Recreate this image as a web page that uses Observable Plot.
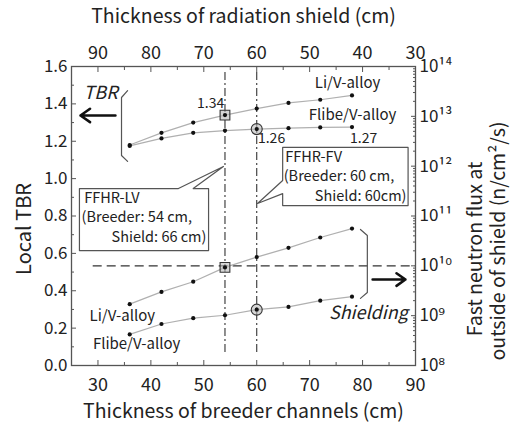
<!DOCTYPE html>
<html><head><meta charset="utf-8">
<script src="https://cdn.jsdelivr.net/npm/d3@7"></script>
<script src="https://cdn.jsdelivr.net/npm/@observablehq/plot@0.6"></script>
<style>body{margin:0;background:#fff}</style>
</head><body><div id="chart"></div>
<script>
// ---- data ----
const breeder   = [36, 42, 48, 54, 60, 66, 72, 78];            // cm
const tbrLi     = [1.18, 1.245, 1.30, 1.34, 1.375, 1.405, 1.422, 1.445];
const tbrFlibe  = [1.175, 1.215, 1.245, 1.257, 1.265, 1.27, 1.274, 1.276];
const fluxLi    = [1.7e9, 3.0e9, 4.8e9, 9.3e9, 1.5e10, 2.3e10, 3.7e10, 5.6e10];
const fluxFlibe = [4.2e8, 6.8e8, 8.9e8, 1.02e9, 1.32e9, 1.5e9, 2.0e9, 2.4e9];
const seriesNames = ["Li/V-alloy", "Flibe/V-alloy"];

const xTicks = [30, 40, 50, 60, 70, 80, 90];
const xMinor = [25, 35, 45, 55, 65, 75, 85];
const shieldTicks = [90, 80, 70, 60, 50, 40, 30];
const totalThickness = 120;                 // breeder + shield
const tbrTicks = [0, 0.2, 0.4, 0.6, 0.8, 1.0, 1.2, 1.4, 1.6];
const tbrMinor = [0.1, 0.3, 0.5, 0.7, 0.9, 1.1, 1.3, 1.5];
const fluxExps = [8, 9, 10, 11, 12, 13, 14];
const fluxMinorMult = [2, 3, 4, 5, 6, 7, 8, 9];
const tbrMax = 1.6, expMin = 8, expMax = 14;
const refFlux = 1e10;
const markedBreeder = [54, 60];

// map flux onto the TBR axis (shared plot height)
const fluxToY = f => (Math.log10(f) - expMin) / (expMax - expMin) * tbrMax;
const yToExp = v => Math.round(v / tbrMax * (expMax - expMin) + expMin);
const supMap = {"0":"⁰","1":"¹","2":"²","3":"³","4":"⁴","5":"⁵","6":"⁶","7":"⁷","8":"⁸","9":"⁹"};
const sup = n => String(n).split("").map(c => supMap[c]).join("");

const rows = [];
breeder.forEach((b, i) => {
  rows.push({x: b, y: tbrLi[i], s: "tbr-" + seriesNames[0]});
  rows.push({x: b, y: tbrFlibe[i], s: "tbr-" + seriesNames[1]});
  rows.push({x: b, y: fluxToY(fluxLi[i]), s: "flux-" + seriesNames[0]});
  rows.push({x: b, y: fluxToY(fluxFlibe[i]), s: "flux-" + seriesNames[1]});
});
const fluxMinor = [];
fluxExps.slice(0, -1).forEach(e => fluxMinorMult.forEach(m => fluxMinor.push(fluxToY(m * 10 ** e))));

// ---- annotation geometry (data units) ----
const tbrBracket = [[35.6, 1.471], [34.45, 1.434], [34.45, 1.124], [35.6, 1.092]];
const shBracket  = [[79.6, 0.728], [80.9, 0.696], [80.9, 0.391], [79.6, 0.359]];
const lvBox = [[26.5, 0.947], [45.2, 0.947], [53.7, 1.065], [48.0, 0.947], [50.9, 0.947], [50.9, 0.615], [26.5, 0.615], [26.5, 0.947]];
const fvBox = [[64.9, 1.167], [88.6, 1.167], [88.6, 0.856], [64.9, 0.856], [64.9, 0.920], [60.15, 0.867], [64.9, 0.990], [64.9, 1.167]];
const arrows = [
  {x1: 33.3, y1: 1.338, x2: 26.7, y2: 1.338},
  {x1: 81.9, y1: 0.460, x2: 88.1, y2: 0.460}
];
const italicLabels = [
  {x: 30.5, y: 1.455, t: "TBR"},
  {x: 81.1, y: 0.278, t: "Shielding"}
];
const valueLabels = [
  {x: 51.3, y: 1.402, t: "1.34"},
  {x: 62.8, y: 1.215, t: "1.26"},
  {x: 80.2, y: 1.215, t: "1.27"}
];
const seriesLabels = [
  {x: 77.15, y: 1.509, t: seriesNames[0]},
  {x: 78.1, y: 1.338, t: seriesNames[1]},
  {x: 34.6, y: 0.262, t: seriesNames[0]},
  {x: 37.3, y: 0.112, t: seriesNames[1]}
];
const boxStart = [
  {x: 27.4, y: 0.894, t: "FFHR-LV"},
  {x: 26.9, y: 0.792, t: "(Breeder: 54 cm,"},
  {x: 65.4, y: 1.116, t: "FFHR-FV"},
  {x: 65.1, y: 1.011, t: "(Breeder: 60 cm,"}
];
const boxEnd = [
  {x: 50.5, y: 0.685, t: "Shield: 66 cm)"},
  {x: 88.3, y: 0.905, t: "Shield: 60cm)"}
];

const font = "'Noto Sans CJK JP', 'DejaVu Sans', sans-serif";
const ink = "#222";
const xy = {x: "x", y: "y", text: "t", fill: ink};

const chart = Plot.plot({
  width: 510, height: 425,
  marginLeft: 71, marginRight: 95, marginTop: 66, marginBottom: 60,
  x: {domain: [25, 90]},
  y: {domain: [0, tbrMax]},
  style: {fontFamily: font, fontSize: "18px", color: ink, background: "#fff"},
  marks: [
    // reference lines
    Plot.ruleX(markedBreeder, {y1: 0.07, y2: 1.57, stroke: "#333", strokeWidth: 1.1, strokeDasharray: "8,3,2,3"}),
    Plot.ruleY([fluxToY(refFlux)], {x1: 29.1, x2: 90, stroke: "#333", strokeWidth: 1.2, strokeDasharray: "9,5"}),
    // series lines
    Plot.line(rows, {x: "x", y: "y", z: "s", stroke: "#b0b0b0", strokeWidth: 1.2}),
    // highlighted design points
    Plot.dot([{x: breeder[3], y: tbrLi[3]}, {x: breeder[3], y: fluxToY(fluxLi[3])}],
      {x: "x", y: "y", symbol: "square", r: 5.5, stroke: "#333", strokeWidth: 1.1, fill: "#bbb", fillOpacity: 0.6}),
    Plot.dot([{x: breeder[4], y: tbrFlibe[4]}, {x: breeder[4], y: fluxToY(fluxFlibe[4])}],
      {x: "x", y: "y", r: 5.5, stroke: "#333", strokeWidth: 1.1, fill: "#bbb", fillOpacity: 0.6}),
    Plot.dot(rows, {x: "x", y: "y", r: 2.1, fill: "#111"}),
    // brackets, boxes, arrows
    Plot.line(tbrBracket, {x: d => d[0], y: d => d[1], stroke: "#555", strokeWidth: 1.2}),
    Plot.line(shBracket, {x: d => d[0], y: d => d[1], stroke: "#555", strokeWidth: 1.2}),
    Plot.line(lvBox, {x: d => d[0], y: d => d[1], stroke: "#555", strokeWidth: 1.2}),
    Plot.line(fvBox, {x: d => d[0], y: d => d[1], stroke: "#555", strokeWidth: 1.2}),
    Plot.arrow(arrows, {x1: "x1", y1: "y1", x2: "x2", y2: "y2", stroke: "#111", strokeWidth: 2.6, headLength: 11, headAngle: 70}),
    Plot.text(italicLabels, {...xy, fontSize: 18, fontStyle: "italic", textAnchor: "middle"}),
    Plot.text(valueLabels, {...xy, fontSize: 14, textAnchor: "middle"}),
    Plot.text(seriesLabels, {...xy, fontSize: 15, textAnchor: "middle"}),
    Plot.text(boxStart, {...xy, fontSize: 14.5, textAnchor: "start"}),
    Plot.text(boxEnd, {...xy, fontSize: 14.5, textAnchor: "end"}),
    // frame and axes
    Plot.frame({stroke: "#555", strokeWidth: 1.3}),
    Plot.axisX(xTicks, {anchor: "bottom", tickSize: -5, tickPadding: 18, label: null, stroke: "#555", fontSize: 18}),
    Plot.axisX(xMinor, {anchor: "bottom", tickSize: -3, tickFormat: () => "", label: null, stroke: "#555"}),
    Plot.axisX(shieldTicks.map(s => totalThickness - s), {anchor: "top", tickSize: -5, tickPadding: 13, label: null, stroke: "#555", fontSize: 18, tickFormat: d => totalThickness - d}),
    Plot.axisX(xMinor, {anchor: "top", tickSize: -3, tickFormat: () => "", label: null, stroke: "#555"}),
    Plot.axisY(tbrTicks, {anchor: "left", tickSize: -5, tickPadding: 9, label: null, stroke: "#555", fontSize: 17, tickFormat: d3.format(".1f")}),
    Plot.axisY(tbrMinor, {anchor: "left", tickSize: -3, tickFormat: () => "", label: null, stroke: "#555"}),
    Plot.axisY(fluxExps.map(e => fluxToY(10 ** e)), {anchor: "right", tickSize: -5, tickPadding: 9, label: null, stroke: "#555", fontSize: 17, tickFormat: v => "10" + sup(yToExp(v))}),
    Plot.axisY(fluxMinor, {anchor: "right", tickSize: -3, tickFormat: () => "", label: null, stroke: "#555"}),
    // axis titles
    Plot.text(["Thickness of breeder channels (cm)"], {frameAnchor: "bottom", dy: 46.5, fontSize: 19.5, fill: ink, textAnchor: "middle", lineAnchor: "middle"}),
    Plot.text(["Thickness of radiation shield (cm)"], {frameAnchor: "top", dy: -50, fontSize: 19.5, fill: ink, textAnchor: "middle", lineAnchor: "middle"}),
    Plot.text(["Local TBR"], {frameAnchor: "left", dx: -47, dy: 13, rotate: -90, fontSize: 20, fill: ink, textAnchor: "middle", lineAnchor: "middle"}),
    Plot.text(["Fast neutron flux at"], {frameAnchor: "right", dx: 60, dy: 33, rotate: -90, fontSize: 19.5, fill: ink, textAnchor: "middle", lineAnchor: "middle"}),
    Plot.text(["outside of shield (n/cm²/s)"], {frameAnchor: "right", dx: 83, dy: 25, rotate: -90, fontSize: 19.5, fill: ink, textAnchor: "middle", lineAnchor: "middle"})
  ]
});
document.getElementById("chart").appendChild(chart);
</script>
</body></html>
